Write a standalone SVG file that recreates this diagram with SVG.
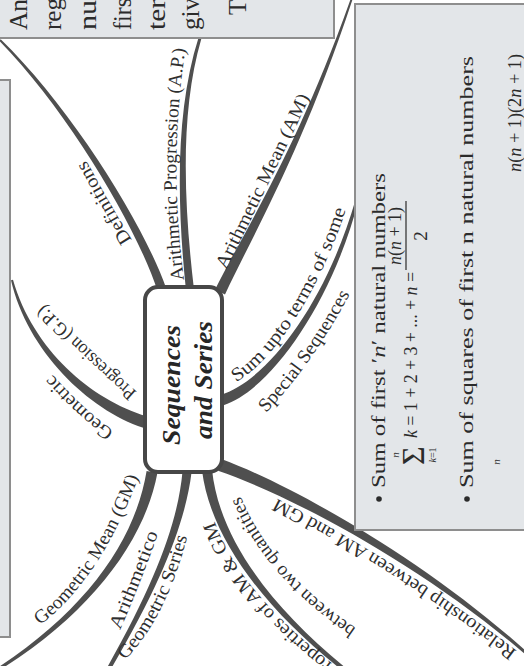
<svg xmlns="http://www.w3.org/2000/svg" width="524" height="666" viewBox="0 0 524 666">
<style>
.box{fill:#e3e6e9;stroke:#8e8e8e;stroke-width:2}
.br{fill:#4f4f4f}
.lbl{font-family:'Liberation Serif','Times New Roman',serif;font-size:19px;fill:#2f2f2f}
.bx{font-family:'Liberation Serif','Times New Roman',serif;font-size:19px;fill:#2b2b2b}
.big{font-size:25px}
.it{font-style:italic}
.sig{font-size:32px}
.ctr{font-family:'Liberation Serif','Times New Roman',serif;font-weight:bold;font-style:italic;font-size:26px;fill:#262626}
</style>
<defs>
<path id="p-def" d="M132,240 Q106,198 85,158"/>
<path id="p-ap" d="M184,280 Q168,160 186,45"/>
<path id="p-am" d="M226,270 Q266,190 311,95"/>
<path id="p-sum1" d="M236,382 C268,365 318,300 349,200"/>
<path id="p-sum2" d="M266,413 Q314,362 352,290"/>
<path id="p-rel" d="M517,651 C440,592 355,538 268,494"/>
<path id="p-prop1" d="M341,670 C300,640 230,580 212,512"/>
<path id="p-prop2" d="M356,628 C322,605 266,562 238,490"/>
<path id="p-ag1" d="M120,630 Q140,585 160,528"/>
<path id="p-ag2" d="M125,660 C145,640 172,600 188,533"/>
<path id="p-gm" d="M40,625 Q100,580 139,476"/>
<path id="p-gp1" d="M114,431 Q84,410 52,374"/>
<path id="p-gp2" d="M137,392 Q90,350 42,303"/>
</defs>

<g id="connectors">
<path class="br" d="M166.3,288.6 C143.6,223.8 71.6,108.4 0.7,39.3 L-0.7,40.7 C68.4,111.6 136.4,226.2 157.7,291.4 Z"/>
<path class="br" d="M194,289.6 C183.4,199.6 180.3,110.7 201.4,38.4 L198.6,37.6 C175.7,109.3 176.6,200.4 186,290.4 Z"/>
<path class="br" d="M225,294.4 C254.2,232 302.5,150.8 352.9,-1.7 L351.1,-2.3 C297.5,149.2 245.8,228 215.1,289.6 Z"/>
<path class="br" d="M223.6,405.2 C271.4,389.5 332.8,300.8 358.4,200.4 L355.6,199.6 C327.2,299.2 268.6,380.5 220.4,394.8 Z"/>
<path class="br" d="M218,470.7 C288.3,494.8 418,562.3 525,654.1 L527,651.9 C422,557.7 291.7,485.2 222,459.3 Z"/>
<path class="br" d="M202,470.6 C210.8,540.5 268.1,612.4 343.8,671.6 L346.3,668.4 C271.9,607.6 219.2,539.5 212,469.4 Z"/>
<path class="br" d="M182.5,471.5 C178.2,519.6 157.5,578.6 106.3,669 L109.7,671 C162.5,581.5 185.8,520.4 191.5,472.5 Z"/>
<path class="br" d="M146.6,471 C135.4,539.2 88.4,607.6 -0.8,666.7 L0.8,669.3 C91.6,612.4 144.6,540.8 157.4,473 Z"/>
<path class="br" d="M146.8,416.3 C91.5,400.1 32.7,349.3 13,279.8 L11,280.2 C27.3,350.7 88.5,409.9 143.2,427.7 Z"/>
</g>

<g id="box-top">
<rect class="box" x="-3" y="-3" width="337" height="41"/>
<g class="bx big">
<text transform="translate(27,30) rotate(-90)" textLength="31" lengthAdjust="spacingAndGlyphs">An</text>
<text transform="translate(61,30) rotate(-90)" textLength="32" lengthAdjust="spacingAndGlyphs">reg</text>
<text transform="translate(96,30) rotate(-90)" textLength="30" lengthAdjust="spacingAndGlyphs">nu</text>
<text transform="translate(131,30) rotate(-90)" textLength="32" lengthAdjust="spacingAndGlyphs">firs</text>
<text transform="translate(165,30) rotate(-90)" textLength="31" lengthAdjust="spacingAndGlyphs">ter</text>
<text transform="translate(199,30) rotate(-90)" textLength="32" lengthAdjust="spacingAndGlyphs">giv</text>
<text transform="translate(246,15) rotate(-90)">T</text>
</g>
</g>

<g id="box-left">
<rect class="box" x="-3" y="80" width="13" height="557"/>
</g>

<g id="box-right">
<rect class="box" x="355" y="4" width="175" height="526"/>
<g class="bx">
<circle cx="379" cy="499" r="2.8" fill="#2b2b2b"/>
<text transform="translate(385,488) rotate(-90)" textLength="315" lengthAdjust="spacingAndGlyphs">Sum of first ′<tspan class="it">n</tspan>′ natural numbers</text>
<text class="sig" transform="translate(424,465) rotate(-90)">Σ</text>
<text transform="translate(399,455) rotate(-90)" text-anchor="middle" class="it" style="font-size:11px">n</text>
<text transform="translate(436,455) rotate(-90)" text-anchor="middle" style="font-size:10px"><tspan class="it">k</tspan>=1</text>
<text transform="translate(417,438) rotate(-90)" textLength="166" lengthAdjust="spacingAndGlyphs"><tspan class="it">k</tspan> = 1 + 2 + 3 + ... + <tspan class="it">n</tspan> =</text>
<text transform="translate(401,236) rotate(-90)" text-anchor="middle" textLength="58" lengthAdjust="spacingAndGlyphs" style="font-size:18px"><tspan class="it">n</tspan>(<tspan class="it">n</tspan> + 1)</text>
<line x1="406" y1="270" x2="406" y2="201" stroke="#2b2b2b" stroke-width="1.2"/>
<text transform="translate(427,236) rotate(-90)" text-anchor="middle">2</text>
<circle cx="467" cy="499" r="2.8" fill="#2b2b2b"/>
<text transform="translate(473,488) rotate(-90)" textLength="432" lengthAdjust="spacingAndGlyphs">Sum of squares of first n natural numbers</text>
<text transform="translate(500,462) rotate(-90)" text-anchor="middle" class="it" style="font-size:11px">n</text>
<text transform="translate(521,172) rotate(-90)" textLength="118" lengthAdjust="spacingAndGlyphs"><tspan class="it">n</tspan>(<tspan class="it">n</tspan> + 1)(2<tspan class="it">n</tspan> + 1)</text>
</g>
</g>

<g id="center">
<rect x="145" y="287" width="77" height="185" rx="13" fill="#fff" stroke="#474747" stroke-width="4"/>
<text class="ctr" transform="translate(180,385) rotate(-90)" text-anchor="middle" textLength="120" lengthAdjust="spacingAndGlyphs">Sequences</text>
<text class="ctr" transform="translate(212,380) rotate(-90)" text-anchor="middle" textLength="118" lengthAdjust="spacingAndGlyphs">and Series</text>
</g>

<g id="n-definitions"><text class="lbl"><textPath href="#p-def" textLength="92" lengthAdjust="spacingAndGlyphs">Definitions</textPath></text></g>
<g id="n-ap"><text class="lbl"><textPath href="#p-ap" textLength="232" lengthAdjust="spacingAndGlyphs">Arithmetic Progression (A.P.)</textPath></text></g>
<g id="n-am"><text class="lbl"><textPath href="#p-am" textLength="192" lengthAdjust="spacingAndGlyphs">Arithmetic Mean (AM)</textPath></text></g>
<g id="n-sum">
<text class="lbl"><textPath href="#p-sum1" textLength="208" lengthAdjust="spacingAndGlyphs">Sum upto terms of some</textPath></text>
<text class="lbl"><textPath href="#p-sum2" textLength="146" lengthAdjust="spacingAndGlyphs">Special Sequences</textPath></text>
</g>
<g id="n-rel"><text class="lbl"><textPath href="#p-rel" textLength="285" lengthAdjust="spacingAndGlyphs">Relationship between AM and GM</textPath></text></g>
<g id="n-prop">
<text class="lbl"><textPath href="#p-prop1" textLength="198" lengthAdjust="spacingAndGlyphs">Properties of AM &amp; GM</textPath></text>
<text class="lbl"><textPath href="#p-prop2" textLength="178" lengthAdjust="spacingAndGlyphs">between two quantities</textPath></text>
</g>
<g id="n-ags">
<text class="lbl"><textPath href="#p-ag1" textLength="104" lengthAdjust="spacingAndGlyphs">Arithmetico</textPath></text>
<text class="lbl"><textPath href="#p-ag2" textLength="140" lengthAdjust="spacingAndGlyphs">Geometric Series</textPath></text>
</g>
<g id="n-gm"><text class="lbl"><textPath href="#p-gm" textLength="180" lengthAdjust="spacingAndGlyphs">Geometric Mean (GM)</textPath></text></g>
<g id="n-gp">
<text class="lbl"><textPath href="#p-gp1" textLength="84" lengthAdjust="spacingAndGlyphs">Geometric</textPath></text>
<text class="lbl"><textPath href="#p-gp2" textLength="128" lengthAdjust="spacingAndGlyphs">Progression (G.P.)</textPath></text>
</g>
</svg>
